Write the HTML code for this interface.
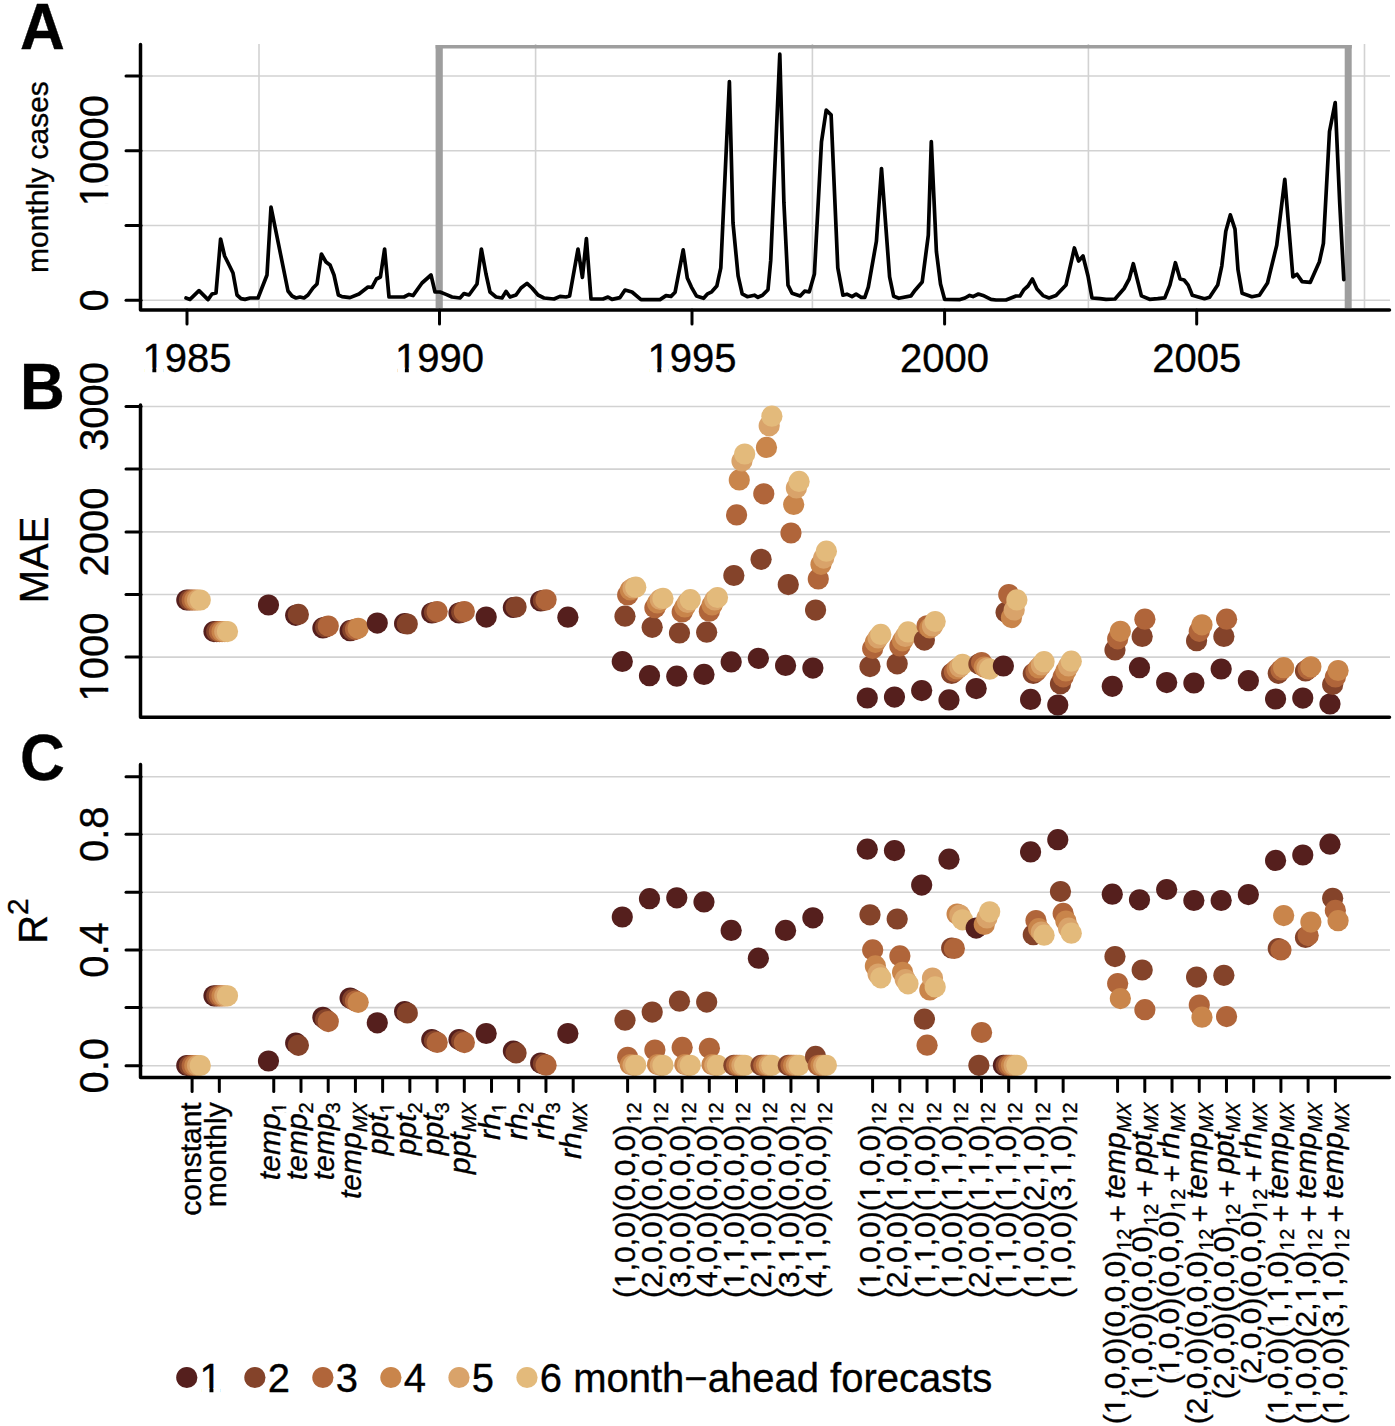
<!DOCTYPE html>
<html><head><meta charset="utf-8"><style>
html,body{margin:0;padding:0;background:#fff;}
svg{display:block;font-family:"Liberation Sans", sans-serif;}
text{stroke:#000;stroke-width:0.35px;}
</style></head><body>
<svg width="1395" height="1426" viewBox="0 0 1395 1426">
<rect width="1395" height="1426" fill="#fff"/>
<line x1="142" y1="76" x2="1390" y2="76" stroke="#d2d2d2" stroke-width="1.6" stroke-linecap="butt"/>
<line x1="142" y1="150.7" x2="1390" y2="150.7" stroke="#d2d2d2" stroke-width="1.6" stroke-linecap="butt"/>
<line x1="142" y1="225.5" x2="1390" y2="225.5" stroke="#d2d2d2" stroke-width="1.6" stroke-linecap="butt"/>
<line x1="142" y1="300.3" x2="1390" y2="300.3" stroke="#d2d2d2" stroke-width="1.6" stroke-linecap="butt"/>
<line x1="259" y1="44" x2="259" y2="308" stroke="#d2d2d2" stroke-width="1.6" stroke-linecap="butt"/>
<line x1="535.6" y1="44" x2="535.6" y2="308" stroke="#d2d2d2" stroke-width="1.6" stroke-linecap="butt"/>
<line x1="812.4" y1="44" x2="812.4" y2="308" stroke="#d2d2d2" stroke-width="1.6" stroke-linecap="butt"/>
<line x1="1088.4" y1="44" x2="1088.4" y2="308" stroke="#d2d2d2" stroke-width="1.6" stroke-linecap="butt"/>
<line x1="1364.5" y1="44" x2="1364.5" y2="308" stroke="#d2d2d2" stroke-width="1.6" stroke-linecap="butt"/>
<line x1="435.6" y1="46.8" x2="1351.7" y2="46.8" stroke="#9e9e9e" stroke-width="3.4" stroke-linecap="butt"/>
<line x1="439.2" y1="45.1" x2="439.2" y2="308" stroke="#9e9e9e" stroke-width="7.2" stroke-linecap="butt"/>
<line x1="1348.2" y1="45.1" x2="1348.2" y2="308" stroke="#9e9e9e" stroke-width="7.0" stroke-linecap="butt"/>
<polyline points="186,298 190,299.4 199,290.6 208,299.6 212,294 216,293 220.6,239 224.6,256 228.6,264 233,273 237,295 241,298.6 245,299.4 250,298 258,298 267,275 271,207 288,291 292,296 296,298 300,297 304,298 308,295 313,288 317,284 321.4,254 326,262 330,265 334,275 338.4,295 342,296.6 350,297.6 359,294 368,287 372,287.4 376.4,279 380.4,277 384.6,249 389,297 398,297 404,297 409,294.4 413,295.6 422,283 431,275 435,292 440,292 446,294.4 452,297 460,298 464,293.6 469,295 477,284 481.4,249 486,274 490,292 496,297 502,298 506,291.4 510,297 516,295 521,288 527,283.4 532,288 538,295 544,298 554,299 560,296.4 566,297 569.6,296 578,249 582.4,277.4 586.4,238.6 591,299 603,299 608,297 612,299.4 620,297.6 625,290 632,292 641,299.6 660,299.6 666,295.6 671,296.4 675.1,292.2 683.2,249.9 687.3,278 691.4,287.1 696.4,295.9 703.6,298.3 707.6,293.8 711.7,291.8 716.8,286.1 720.8,267.8 729.4,81.7 733,223 738.1,275.9 742.2,293.8 747.3,296.7 754.4,295.2 757.9,297.3 762.5,295.2 768,289.7 770.7,260.7 779.8,54.2 783.9,202.7 788,285.1 792,293.2 800.2,295.9 804.6,291.2 809.3,291.8 814.4,273.9 821.5,141.7 826.2,110.2 831.1,114.8 837.8,267.8 842.9,295.2 846.9,294.2 852,296.7 856.1,294.2 861.2,297.3 864.8,297.3 868.3,287.1 876.4,241.3 881.5,168.5 889.6,276.9 893.7,296.3 898.8,298.3 911,295.9 915.1,290.2 922.2,282 928.3,235.2 931.3,141.7 936.4,251.5 940.5,284 944.6,299.3 960,299.6 965,298 969.6,295.4 973,296.6 978.4,294 983,295.4 991,299.4 996,300 1006,300 1016,296 1020,296 1024,289.6 1028,286 1032.4,279 1037,289 1043,295.6 1049,298 1056,295.6 1066,285 1074.4,248 1078.6,261 1083,256 1088,276 1092,298 1100,298.6 1106,299.4 1115,299 1124.1,288.5 1129.2,279 1133.3,263.7 1141.4,295.9 1149.6,299.3 1157.7,298.7 1164.8,297.9 1169.9,285.1 1175.4,262.7 1180.1,279 1184.1,280 1188.2,285.1 1192.3,295.2 1197.4,296.7 1204.5,298.7 1209.6,297.3 1217.7,285.1 1221.8,265.8 1225.8,231.2 1230.3,214.9 1235,229.1 1238,269.8 1242.1,293.2 1251.9,296.7 1259.4,295.2 1267.5,283 1276.7,245.4 1284.8,179.3 1292.9,276.9 1297,274.3 1302.1,281.6 1310.2,282.4 1319.4,261.7 1323.4,243.4 1329.5,131.5 1335.2,102.6 1339.7,202.7 1343.8,279.6" fill="none" stroke="#000" stroke-width="3.7" stroke-linejoin="round" stroke-linecap="round"/>
<polyline points="140.5,44.5 140.5,310 1389.5,310" fill="none" stroke="#000" stroke-width="3.5" stroke-linejoin="round" stroke-linecap="round"/>
<line x1="126" y1="76" x2="141" y2="76" stroke="#000" stroke-width="3" stroke-linecap="round"/>
<line x1="126" y1="150.7" x2="141" y2="150.7" stroke="#000" stroke-width="3" stroke-linecap="round"/>
<line x1="126" y1="225.5" x2="141" y2="225.5" stroke="#000" stroke-width="3" stroke-linecap="round"/>
<line x1="126" y1="300.3" x2="141" y2="300.3" stroke="#000" stroke-width="3" stroke-linecap="round"/>
<line x1="187" y1="310" x2="187" y2="324" stroke="#000" stroke-width="3" stroke-linecap="round"/>
<line x1="439.5" y1="310" x2="439.5" y2="324" stroke="#000" stroke-width="3" stroke-linecap="round"/>
<line x1="692" y1="310" x2="692" y2="324" stroke="#000" stroke-width="3" stroke-linecap="round"/>
<line x1="944.6" y1="310" x2="944.6" y2="324" stroke="#000" stroke-width="3" stroke-linecap="round"/>
<line x1="1196.7" y1="310" x2="1196.7" y2="324" stroke="#000" stroke-width="3" stroke-linecap="round"/>
<text x="187" y="372" font-size="40" text-anchor="middle" font-weight="normal" font-style="normal">1985</text>
<text x="439.5" y="372" font-size="40" text-anchor="middle" font-weight="normal" font-style="normal">1990</text>
<text x="692" y="372" font-size="40" text-anchor="middle" font-weight="normal" font-style="normal">1995</text>
<text x="944.6" y="372" font-size="40" text-anchor="middle" font-weight="normal" font-style="normal">2000</text>
<text x="1196.7" y="372" font-size="40" text-anchor="middle" font-weight="normal" font-style="normal">2005</text>
<text transform="translate(108,300.3) rotate(-90)" font-size="40" text-anchor="middle" font-weight="normal" font-style="normal">0</text>
<text transform="translate(108,150.7) rotate(-90)" font-size="40" text-anchor="middle" font-weight="normal" font-style="normal">10000</text>
<text transform="translate(48.2,177) rotate(-90)" font-size="30" text-anchor="middle" font-weight="normal" font-style="normal">monthly cases</text>
<text transform="translate(20,48.8) scale(1,1.06)" font-size="62" font-weight="bold">A</text>
<line x1="142" y1="406.5" x2="1390" y2="406.5" stroke="#d2d2d2" stroke-width="1.6" stroke-linecap="butt"/>
<line x1="142" y1="469.1" x2="1390" y2="469.1" stroke="#d2d2d2" stroke-width="1.6" stroke-linecap="butt"/>
<line x1="142" y1="531.9" x2="1390" y2="531.9" stroke="#d2d2d2" stroke-width="1.6" stroke-linecap="butt"/>
<line x1="142" y1="594.5" x2="1390" y2="594.5" stroke="#d2d2d2" stroke-width="1.6" stroke-linecap="butt"/>
<line x1="142" y1="657.1" x2="1390" y2="657.1" stroke="#d2d2d2" stroke-width="1.6" stroke-linecap="butt"/>
<line x1="142" y1="776.7" x2="1390" y2="776.7" stroke="#d2d2d2" stroke-width="1.6" stroke-linecap="butt"/>
<line x1="142" y1="834.3" x2="1390" y2="834.3" stroke="#d2d2d2" stroke-width="1.6" stroke-linecap="butt"/>
<line x1="142" y1="892.3" x2="1390" y2="892.3" stroke="#d2d2d2" stroke-width="1.6" stroke-linecap="butt"/>
<line x1="142" y1="950" x2="1390" y2="950" stroke="#d2d2d2" stroke-width="1.6" stroke-linecap="butt"/>
<line x1="142" y1="1007.6" x2="1390" y2="1007.6" stroke="#d2d2d2" stroke-width="1.6" stroke-linecap="butt"/>
<line x1="142" y1="1065.7" x2="1390" y2="1065.7" stroke="#d2d2d2" stroke-width="1.6" stroke-linecap="butt"/>
<circle cx="186.8" cy="600" r="10.6" fill="#551f1d"/>
<circle cx="189.5" cy="600" r="10.6" fill="#84432a"/>
<circle cx="192.2" cy="600" r="10.6" fill="#b0653a"/>
<circle cx="194.9" cy="600" r="10.6" fill="#c9854b"/>
<circle cx="197.6" cy="600" r="10.6" fill="#d9a36a"/>
<circle cx="200.3" cy="600" r="10.6" fill="#e3ba7b"/>
<circle cx="214.0" cy="631.6" r="10.6" fill="#551f1d"/>
<circle cx="216.7" cy="631.6" r="10.6" fill="#84432a"/>
<circle cx="219.4" cy="631.6" r="10.6" fill="#b0653a"/>
<circle cx="222.1" cy="631.6" r="10.6" fill="#c9854b"/>
<circle cx="224.8" cy="631.6" r="10.6" fill="#d9a36a"/>
<circle cx="227.5" cy="631.6" r="10.6" fill="#e3ba7b"/>
<circle cx="268.5" cy="605" r="10.6" fill="#551f1d"/>
<circle cx="295.7" cy="615.3" r="10.6" fill="#551f1d"/>
<circle cx="298.4" cy="614.4" r="10.6" fill="#84432a"/>
<circle cx="322.9" cy="627.9" r="10.6" fill="#551f1d"/>
<circle cx="325.6" cy="627" r="10.6" fill="#84432a"/>
<circle cx="328.3" cy="626" r="10.6" fill="#b0653a"/>
<circle cx="350.1" cy="630.7" r="10.6" fill="#551f1d"/>
<circle cx="352.8" cy="630" r="10.6" fill="#84432a"/>
<circle cx="355.5" cy="629.3" r="10.6" fill="#b0653a"/>
<circle cx="358.2" cy="628.3" r="10.6" fill="#c9854b"/>
<circle cx="377.3" cy="623.1" r="10.6" fill="#551f1d"/>
<circle cx="404.6" cy="623.5" r="10.6" fill="#551f1d"/>
<circle cx="407.3" cy="624" r="10.6" fill="#84432a"/>
<circle cx="431.8" cy="613" r="10.6" fill="#551f1d"/>
<circle cx="434.5" cy="612.3" r="10.6" fill="#84432a"/>
<circle cx="437.2" cy="611.6" r="10.6" fill="#b0653a"/>
<circle cx="459.0" cy="613" r="10.6" fill="#551f1d"/>
<circle cx="461.7" cy="612.3" r="10.6" fill="#84432a"/>
<circle cx="464.4" cy="611.6" r="10.6" fill="#b0653a"/>
<circle cx="486.2" cy="617.1" r="10.6" fill="#551f1d"/>
<circle cx="513.4" cy="607.5" r="10.6" fill="#551f1d"/>
<circle cx="516.1" cy="607" r="10.6" fill="#84432a"/>
<circle cx="540.7" cy="601" r="10.6" fill="#551f1d"/>
<circle cx="543.4" cy="600.4" r="10.6" fill="#84432a"/>
<circle cx="546.1" cy="599.8" r="10.6" fill="#b0653a"/>
<circle cx="567.9" cy="617.2" r="10.6" fill="#551f1d"/>
<circle cx="622.3" cy="661.5" r="10.6" fill="#551f1d"/>
<circle cx="625.0" cy="616.2" r="10.6" fill="#84432a"/>
<circle cx="627.7" cy="595" r="10.6" fill="#b0653a"/>
<circle cx="630.4" cy="590" r="10.6" fill="#c9854b"/>
<circle cx="633.1" cy="588" r="10.6" fill="#d9a36a"/>
<circle cx="635.8" cy="587.2" r="10.6" fill="#e3ba7b"/>
<circle cx="649.5" cy="675.7" r="10.6" fill="#551f1d"/>
<circle cx="652.2" cy="627.3" r="10.6" fill="#84432a"/>
<circle cx="654.9" cy="607.7" r="10.6" fill="#b0653a"/>
<circle cx="657.6" cy="603" r="10.6" fill="#c9854b"/>
<circle cx="660.3" cy="599.5" r="10.6" fill="#d9a36a"/>
<circle cx="663.0" cy="598.4" r="10.6" fill="#e3ba7b"/>
<circle cx="676.8" cy="676.2" r="10.6" fill="#551f1d"/>
<circle cx="679.5" cy="633" r="10.6" fill="#84432a"/>
<circle cx="682.2" cy="612" r="10.6" fill="#b0653a"/>
<circle cx="684.9" cy="607" r="10.6" fill="#c9854b"/>
<circle cx="687.6" cy="602.5" r="10.6" fill="#d9a36a"/>
<circle cx="690.3" cy="599.7" r="10.6" fill="#e3ba7b"/>
<circle cx="704.0" cy="674.4" r="10.6" fill="#551f1d"/>
<circle cx="706.7" cy="632.2" r="10.6" fill="#84432a"/>
<circle cx="709.4" cy="611.2" r="10.6" fill="#b0653a"/>
<circle cx="712.1" cy="605" r="10.6" fill="#c9854b"/>
<circle cx="714.8" cy="600" r="10.6" fill="#d9a36a"/>
<circle cx="717.5" cy="597.5" r="10.6" fill="#e3ba7b"/>
<circle cx="731.2" cy="661.9" r="10.6" fill="#551f1d"/>
<circle cx="733.9" cy="575.5" r="10.6" fill="#84432a"/>
<circle cx="736.6" cy="514.9" r="10.6" fill="#b0653a"/>
<circle cx="739.3" cy="479.9" r="10.6" fill="#c9854b"/>
<circle cx="742.0" cy="460.9" r="10.6" fill="#d9a36a"/>
<circle cx="744.7" cy="454" r="10.6" fill="#e3ba7b"/>
<circle cx="758.4" cy="658.3" r="10.6" fill="#551f1d"/>
<circle cx="761.1" cy="559.3" r="10.6" fill="#84432a"/>
<circle cx="763.8" cy="493.8" r="10.6" fill="#b0653a"/>
<circle cx="766.5" cy="447.4" r="10.6" fill="#c9854b"/>
<circle cx="769.2" cy="425.8" r="10.6" fill="#d9a36a"/>
<circle cx="771.9" cy="416.2" r="10.6" fill="#e3ba7b"/>
<circle cx="785.6" cy="665.4" r="10.6" fill="#551f1d"/>
<circle cx="788.3" cy="584.6" r="10.6" fill="#84432a"/>
<circle cx="791.0" cy="533" r="10.6" fill="#b0653a"/>
<circle cx="793.7" cy="504.4" r="10.6" fill="#c9854b"/>
<circle cx="796.4" cy="487.9" r="10.6" fill="#d9a36a"/>
<circle cx="799.1" cy="481.4" r="10.6" fill="#e3ba7b"/>
<circle cx="812.9" cy="668.1" r="10.6" fill="#551f1d"/>
<circle cx="815.6" cy="610.1" r="10.6" fill="#84432a"/>
<circle cx="818.3" cy="578.9" r="10.6" fill="#b0653a"/>
<circle cx="821.0" cy="564.3" r="10.6" fill="#c9854b"/>
<circle cx="823.7" cy="558.1" r="10.6" fill="#d9a36a"/>
<circle cx="826.4" cy="551.2" r="10.6" fill="#e3ba7b"/>
<circle cx="867.3" cy="698" r="10.6" fill="#551f1d"/>
<circle cx="870.0" cy="666.6" r="10.6" fill="#84432a"/>
<circle cx="872.7" cy="648.4" r="10.6" fill="#b0653a"/>
<circle cx="875.4" cy="642.3" r="10.6" fill="#c9854b"/>
<circle cx="878.1" cy="638" r="10.6" fill="#d9a36a"/>
<circle cx="880.8" cy="634.4" r="10.6" fill="#e3ba7b"/>
<circle cx="894.5" cy="697.1" r="10.6" fill="#551f1d"/>
<circle cx="897.2" cy="663.8" r="10.6" fill="#84432a"/>
<circle cx="899.9" cy="645.9" r="10.6" fill="#b0653a"/>
<circle cx="902.6" cy="640.8" r="10.6" fill="#c9854b"/>
<circle cx="905.3" cy="636.5" r="10.6" fill="#d9a36a"/>
<circle cx="908.0" cy="631.9" r="10.6" fill="#e3ba7b"/>
<circle cx="921.7" cy="690.6" r="10.6" fill="#551f1d"/>
<circle cx="924.4" cy="640.1" r="10.6" fill="#84432a"/>
<circle cx="927.1" cy="625.8" r="10.6" fill="#b0653a"/>
<circle cx="929.8" cy="628" r="10.6" fill="#c9854b"/>
<circle cx="932.5" cy="626" r="10.6" fill="#d9a36a"/>
<circle cx="935.2" cy="621.5" r="10.6" fill="#e3ba7b"/>
<circle cx="949.0" cy="699.9" r="10.6" fill="#551f1d"/>
<circle cx="951.7" cy="673.5" r="10.6" fill="#84432a"/>
<circle cx="954.4" cy="671.4" r="10.6" fill="#b0653a"/>
<circle cx="957.1" cy="669" r="10.6" fill="#c9854b"/>
<circle cx="959.8" cy="667" r="10.6" fill="#d9a36a"/>
<circle cx="962.5" cy="664.4" r="10.6" fill="#e3ba7b"/>
<circle cx="976.2" cy="688.6" r="10.6" fill="#551f1d"/>
<circle cx="978.9" cy="664" r="10.6" fill="#84432a"/>
<circle cx="981.6" cy="662.5" r="10.6" fill="#b0653a"/>
<circle cx="984.3" cy="667" r="10.6" fill="#c9854b"/>
<circle cx="987.0" cy="668" r="10.6" fill="#d9a36a"/>
<circle cx="989.7" cy="669.2" r="10.6" fill="#e3ba7b"/>
<circle cx="1003.4" cy="666" r="10.6" fill="#551f1d"/>
<circle cx="1006.1" cy="612.3" r="10.6" fill="#84432a"/>
<circle cx="1008.8" cy="594.5" r="10.6" fill="#b0653a"/>
<circle cx="1011.5" cy="617.6" r="10.6" fill="#c9854b"/>
<circle cx="1014.2" cy="610" r="10.6" fill="#d9a36a"/>
<circle cx="1016.9" cy="599.9" r="10.6" fill="#e3ba7b"/>
<circle cx="1030.6" cy="699.4" r="10.6" fill="#551f1d"/>
<circle cx="1033.3" cy="673.5" r="10.6" fill="#84432a"/>
<circle cx="1036.0" cy="671.4" r="10.6" fill="#b0653a"/>
<circle cx="1038.7" cy="668" r="10.6" fill="#c9854b"/>
<circle cx="1041.4" cy="665" r="10.6" fill="#d9a36a"/>
<circle cx="1044.1" cy="661.7" r="10.6" fill="#e3ba7b"/>
<circle cx="1057.8" cy="705" r="10.6" fill="#551f1d"/>
<circle cx="1060.5" cy="683.8" r="10.6" fill="#84432a"/>
<circle cx="1063.2" cy="676.8" r="10.6" fill="#b0653a"/>
<circle cx="1065.9" cy="671" r="10.6" fill="#c9854b"/>
<circle cx="1068.6" cy="666" r="10.6" fill="#d9a36a"/>
<circle cx="1071.3" cy="661.2" r="10.6" fill="#e3ba7b"/>
<circle cx="1112.3" cy="686.3" r="10.6" fill="#551f1d"/>
<circle cx="1115.0" cy="650" r="10.6" fill="#84432a"/>
<circle cx="1117.7" cy="638.8" r="10.6" fill="#b0653a"/>
<circle cx="1120.4" cy="631.3" r="10.6" fill="#c9854b"/>
<circle cx="1139.5" cy="667.7" r="10.6" fill="#551f1d"/>
<circle cx="1142.2" cy="636.4" r="10.6" fill="#84432a"/>
<circle cx="1144.9" cy="619.2" r="10.6" fill="#b0653a"/>
<circle cx="1166.7" cy="682.6" r="10.6" fill="#551f1d"/>
<circle cx="1193.9" cy="683" r="10.6" fill="#551f1d"/>
<circle cx="1196.6" cy="640.7" r="10.6" fill="#84432a"/>
<circle cx="1199.3" cy="631.3" r="10.6" fill="#b0653a"/>
<circle cx="1202.0" cy="624.8" r="10.6" fill="#c9854b"/>
<circle cx="1221.2" cy="669" r="10.6" fill="#551f1d"/>
<circle cx="1223.9" cy="636.4" r="10.6" fill="#84432a"/>
<circle cx="1226.6" cy="619.2" r="10.6" fill="#b0653a"/>
<circle cx="1248.4" cy="680.7" r="10.6" fill="#551f1d"/>
<circle cx="1275.6" cy="699" r="10.6" fill="#551f1d"/>
<circle cx="1278.3" cy="673.3" r="10.6" fill="#84432a"/>
<circle cx="1281.0" cy="670" r="10.6" fill="#b0653a"/>
<circle cx="1283.7" cy="667.7" r="10.6" fill="#c9854b"/>
<circle cx="1302.8" cy="698.1" r="10.6" fill="#551f1d"/>
<circle cx="1305.5" cy="671" r="10.6" fill="#84432a"/>
<circle cx="1308.2" cy="669" r="10.6" fill="#b0653a"/>
<circle cx="1310.9" cy="666.8" r="10.6" fill="#c9854b"/>
<circle cx="1330.0" cy="704" r="10.6" fill="#551f1d"/>
<circle cx="1332.7" cy="684.5" r="10.6" fill="#84432a"/>
<circle cx="1335.4" cy="677" r="10.6" fill="#b0653a"/>
<circle cx="1338.1" cy="670.5" r="10.6" fill="#c9854b"/>
<circle cx="186.8" cy="1065.5" r="10.6" fill="#551f1d"/>
<circle cx="189.5" cy="1065.5" r="10.6" fill="#84432a"/>
<circle cx="192.2" cy="1065.5" r="10.6" fill="#b0653a"/>
<circle cx="194.9" cy="1065.5" r="10.6" fill="#c9854b"/>
<circle cx="197.6" cy="1065.5" r="10.6" fill="#d9a36a"/>
<circle cx="200.3" cy="1065.5" r="10.6" fill="#e3ba7b"/>
<circle cx="214.0" cy="995.8" r="10.6" fill="#551f1d"/>
<circle cx="216.7" cy="995.8" r="10.6" fill="#84432a"/>
<circle cx="219.4" cy="995.8" r="10.6" fill="#b0653a"/>
<circle cx="222.1" cy="995.8" r="10.6" fill="#c9854b"/>
<circle cx="224.8" cy="995.8" r="10.6" fill="#d9a36a"/>
<circle cx="227.5" cy="995.8" r="10.6" fill="#e3ba7b"/>
<circle cx="268.5" cy="1061" r="10.6" fill="#551f1d"/>
<circle cx="295.7" cy="1043.1" r="10.6" fill="#551f1d"/>
<circle cx="298.4" cy="1045.3" r="10.6" fill="#84432a"/>
<circle cx="322.9" cy="1017.3" r="10.6" fill="#551f1d"/>
<circle cx="325.6" cy="1019.5" r="10.6" fill="#84432a"/>
<circle cx="328.3" cy="1021.6" r="10.6" fill="#b0653a"/>
<circle cx="350.1" cy="998" r="10.6" fill="#551f1d"/>
<circle cx="352.8" cy="999.5" r="10.6" fill="#84432a"/>
<circle cx="355.5" cy="1001" r="10.6" fill="#b0653a"/>
<circle cx="358.2" cy="1002.3" r="10.6" fill="#c9854b"/>
<circle cx="377.3" cy="1022.8" r="10.6" fill="#551f1d"/>
<circle cx="404.6" cy="1011.5" r="10.6" fill="#551f1d"/>
<circle cx="407.3" cy="1013" r="10.6" fill="#84432a"/>
<circle cx="431.8" cy="1039.5" r="10.6" fill="#551f1d"/>
<circle cx="434.5" cy="1041" r="10.6" fill="#84432a"/>
<circle cx="437.2" cy="1042.5" r="10.6" fill="#b0653a"/>
<circle cx="459.0" cy="1039.5" r="10.6" fill="#551f1d"/>
<circle cx="461.7" cy="1041" r="10.6" fill="#84432a"/>
<circle cx="464.4" cy="1042.6" r="10.6" fill="#b0653a"/>
<circle cx="486.2" cy="1033.5" r="10.6" fill="#551f1d"/>
<circle cx="513.4" cy="1051" r="10.6" fill="#551f1d"/>
<circle cx="516.1" cy="1052.9" r="10.6" fill="#84432a"/>
<circle cx="540.7" cy="1063" r="10.6" fill="#551f1d"/>
<circle cx="543.4" cy="1064" r="10.6" fill="#84432a"/>
<circle cx="546.1" cy="1065.2" r="10.6" fill="#b0653a"/>
<circle cx="567.9" cy="1033.5" r="10.6" fill="#551f1d"/>
<circle cx="622.3" cy="917" r="10.6" fill="#551f1d"/>
<circle cx="625.0" cy="1020.2" r="10.6" fill="#84432a"/>
<circle cx="627.7" cy="1057.3" r="10.6" fill="#b0653a"/>
<circle cx="630.4" cy="1064.5" r="10.6" fill="#c9854b"/>
<circle cx="633.1" cy="1065.3" r="10.6" fill="#d9a36a"/>
<circle cx="635.8" cy="1065.3" r="10.6" fill="#e3ba7b"/>
<circle cx="649.5" cy="898.7" r="10.6" fill="#551f1d"/>
<circle cx="652.2" cy="1012.1" r="10.6" fill="#84432a"/>
<circle cx="654.9" cy="1050.1" r="10.6" fill="#b0653a"/>
<circle cx="657.6" cy="1064.5" r="10.6" fill="#c9854b"/>
<circle cx="660.3" cy="1065.3" r="10.6" fill="#d9a36a"/>
<circle cx="663.0" cy="1065.3" r="10.6" fill="#e3ba7b"/>
<circle cx="676.8" cy="897.8" r="10.6" fill="#551f1d"/>
<circle cx="679.5" cy="1001.2" r="10.6" fill="#84432a"/>
<circle cx="682.2" cy="1047.4" r="10.6" fill="#b0653a"/>
<circle cx="684.9" cy="1064.5" r="10.6" fill="#c9854b"/>
<circle cx="687.6" cy="1065.3" r="10.6" fill="#d9a36a"/>
<circle cx="690.3" cy="1065.3" r="10.6" fill="#e3ba7b"/>
<circle cx="704.0" cy="901.9" r="10.6" fill="#551f1d"/>
<circle cx="706.7" cy="1002.1" r="10.6" fill="#84432a"/>
<circle cx="709.4" cy="1048.3" r="10.6" fill="#b0653a"/>
<circle cx="712.1" cy="1064.5" r="10.6" fill="#c9854b"/>
<circle cx="714.8" cy="1065.3" r="10.6" fill="#d9a36a"/>
<circle cx="717.5" cy="1065.3" r="10.6" fill="#e3ba7b"/>
<circle cx="731.2" cy="930.4" r="10.6" fill="#551f1d"/>
<circle cx="733.9" cy="1065.3" r="10.6" fill="#84432a"/>
<circle cx="736.6" cy="1065.3" r="10.6" fill="#b0653a"/>
<circle cx="739.3" cy="1065.3" r="10.6" fill="#c9854b"/>
<circle cx="742.0" cy="1065.3" r="10.6" fill="#d9a36a"/>
<circle cx="744.7" cy="1065.3" r="10.6" fill="#e3ba7b"/>
<circle cx="758.4" cy="958.2" r="10.6" fill="#551f1d"/>
<circle cx="761.1" cy="1065.3" r="10.6" fill="#84432a"/>
<circle cx="763.8" cy="1065.3" r="10.6" fill="#b0653a"/>
<circle cx="766.5" cy="1065.3" r="10.6" fill="#c9854b"/>
<circle cx="769.2" cy="1065.3" r="10.6" fill="#d9a36a"/>
<circle cx="771.9" cy="1065.3" r="10.6" fill="#e3ba7b"/>
<circle cx="785.6" cy="930.4" r="10.6" fill="#551f1d"/>
<circle cx="788.3" cy="1065.3" r="10.6" fill="#84432a"/>
<circle cx="791.0" cy="1065.3" r="10.6" fill="#b0653a"/>
<circle cx="793.7" cy="1065.3" r="10.6" fill="#c9854b"/>
<circle cx="796.4" cy="1065.3" r="10.6" fill="#d9a36a"/>
<circle cx="799.1" cy="1065.3" r="10.6" fill="#e3ba7b"/>
<circle cx="812.9" cy="917.8" r="10.6" fill="#551f1d"/>
<circle cx="815.6" cy="1056.4" r="10.6" fill="#84432a"/>
<circle cx="818.3" cy="1065.3" r="10.6" fill="#b0653a"/>
<circle cx="821.0" cy="1065.3" r="10.6" fill="#c9854b"/>
<circle cx="823.7" cy="1065.3" r="10.6" fill="#d9a36a"/>
<circle cx="826.4" cy="1065.3" r="10.6" fill="#e3ba7b"/>
<circle cx="867.3" cy="849.2" r="10.6" fill="#551f1d"/>
<circle cx="870.0" cy="914.8" r="10.6" fill="#84432a"/>
<circle cx="872.7" cy="949.9" r="10.6" fill="#b0653a"/>
<circle cx="875.4" cy="965.9" r="10.6" fill="#c9854b"/>
<circle cx="878.1" cy="974.1" r="10.6" fill="#d9a36a"/>
<circle cx="880.8" cy="977.8" r="10.6" fill="#e3ba7b"/>
<circle cx="894.5" cy="850.6" r="10.6" fill="#551f1d"/>
<circle cx="897.2" cy="919" r="10.6" fill="#84432a"/>
<circle cx="899.9" cy="955.9" r="10.6" fill="#b0653a"/>
<circle cx="902.6" cy="972.3" r="10.6" fill="#c9854b"/>
<circle cx="905.3" cy="979.6" r="10.6" fill="#d9a36a"/>
<circle cx="908.0" cy="983.8" r="10.6" fill="#e3ba7b"/>
<circle cx="921.7" cy="885.1" r="10.6" fill="#551f1d"/>
<circle cx="924.4" cy="1019.2" r="10.6" fill="#84432a"/>
<circle cx="927.1" cy="1045.2" r="10.6" fill="#b0653a"/>
<circle cx="929.8" cy="990" r="10.6" fill="#c9854b"/>
<circle cx="932.5" cy="978" r="10.6" fill="#d9a36a"/>
<circle cx="935.2" cy="986.9" r="10.6" fill="#e3ba7b"/>
<circle cx="949.0" cy="859.2" r="10.6" fill="#551f1d"/>
<circle cx="951.7" cy="948" r="10.6" fill="#84432a"/>
<circle cx="954.4" cy="948.5" r="10.6" fill="#b0653a"/>
<circle cx="957.1" cy="914" r="10.6" fill="#c9854b"/>
<circle cx="959.8" cy="915" r="10.6" fill="#d9a36a"/>
<circle cx="962.5" cy="919.8" r="10.6" fill="#e3ba7b"/>
<circle cx="976.2" cy="928.1" r="10.6" fill="#551f1d"/>
<circle cx="978.9" cy="1065.3" r="10.6" fill="#84432a"/>
<circle cx="981.6" cy="1032.5" r="10.6" fill="#b0653a"/>
<circle cx="984.3" cy="924.4" r="10.6" fill="#c9854b"/>
<circle cx="987.0" cy="918" r="10.6" fill="#d9a36a"/>
<circle cx="989.7" cy="911.8" r="10.6" fill="#e3ba7b"/>
<circle cx="1003.4" cy="1065.3" r="10.6" fill="#551f1d"/>
<circle cx="1006.1" cy="1065.3" r="10.6" fill="#84432a"/>
<circle cx="1008.8" cy="1065.3" r="10.6" fill="#b0653a"/>
<circle cx="1011.5" cy="1065.3" r="10.6" fill="#c9854b"/>
<circle cx="1014.2" cy="1065.3" r="10.6" fill="#d9a36a"/>
<circle cx="1016.9" cy="1065.3" r="10.6" fill="#e3ba7b"/>
<circle cx="1030.6" cy="851.9" r="10.6" fill="#551f1d"/>
<circle cx="1033.3" cy="934.7" r="10.6" fill="#84432a"/>
<circle cx="1036.0" cy="920.5" r="10.6" fill="#b0653a"/>
<circle cx="1038.7" cy="928.7" r="10.6" fill="#c9854b"/>
<circle cx="1041.4" cy="932" r="10.6" fill="#d9a36a"/>
<circle cx="1044.1" cy="935.2" r="10.6" fill="#e3ba7b"/>
<circle cx="1057.8" cy="839.7" r="10.6" fill="#551f1d"/>
<circle cx="1060.5" cy="891.5" r="10.6" fill="#84432a"/>
<circle cx="1063.2" cy="913.4" r="10.6" fill="#b0653a"/>
<circle cx="1065.9" cy="921.1" r="10.6" fill="#c9854b"/>
<circle cx="1068.6" cy="928.2" r="10.6" fill="#d9a36a"/>
<circle cx="1071.3" cy="933.2" r="10.6" fill="#e3ba7b"/>
<circle cx="1112.3" cy="894.2" r="10.6" fill="#551f1d"/>
<circle cx="1115.0" cy="956.6" r="10.6" fill="#84432a"/>
<circle cx="1117.7" cy="983.5" r="10.6" fill="#b0653a"/>
<circle cx="1120.4" cy="998.6" r="10.6" fill="#c9854b"/>
<circle cx="1139.5" cy="899.8" r="10.6" fill="#551f1d"/>
<circle cx="1142.2" cy="970" r="10.6" fill="#84432a"/>
<circle cx="1144.9" cy="1009.7" r="10.6" fill="#b0653a"/>
<circle cx="1166.7" cy="889.5" r="10.6" fill="#551f1d"/>
<circle cx="1193.9" cy="900.5" r="10.6" fill="#551f1d"/>
<circle cx="1196.6" cy="977.1" r="10.6" fill="#84432a"/>
<circle cx="1199.3" cy="1005.1" r="10.6" fill="#b0653a"/>
<circle cx="1202.0" cy="1017.2" r="10.6" fill="#c9854b"/>
<circle cx="1221.2" cy="900.5" r="10.6" fill="#551f1d"/>
<circle cx="1223.9" cy="975.3" r="10.6" fill="#84432a"/>
<circle cx="1226.6" cy="1016.6" r="10.6" fill="#b0653a"/>
<circle cx="1248.4" cy="894.6" r="10.6" fill="#551f1d"/>
<circle cx="1275.6" cy="860.4" r="10.6" fill="#551f1d"/>
<circle cx="1278.3" cy="948.6" r="10.6" fill="#84432a"/>
<circle cx="1281.0" cy="949.9" r="10.6" fill="#b0653a"/>
<circle cx="1283.7" cy="915.6" r="10.6" fill="#c9854b"/>
<circle cx="1302.8" cy="855" r="10.6" fill="#551f1d"/>
<circle cx="1305.5" cy="937.4" r="10.6" fill="#84432a"/>
<circle cx="1308.2" cy="935.6" r="10.6" fill="#b0653a"/>
<circle cx="1310.9" cy="922.1" r="10.6" fill="#c9854b"/>
<circle cx="1330.0" cy="844.2" r="10.6" fill="#551f1d"/>
<circle cx="1332.7" cy="898.3" r="10.6" fill="#84432a"/>
<circle cx="1335.4" cy="910.4" r="10.6" fill="#b0653a"/>
<circle cx="1338.1" cy="920.7" r="10.6" fill="#c9854b"/>
<polyline points="140.5,405 140.5,717.2 1389.5,717.2" fill="none" stroke="#000" stroke-width="3.5" stroke-linejoin="round" stroke-linecap="round"/>
<line x1="126" y1="406.5" x2="141" y2="406.5" stroke="#000" stroke-width="3" stroke-linecap="round"/>
<line x1="126" y1="469.1" x2="141" y2="469.1" stroke="#000" stroke-width="3" stroke-linecap="round"/>
<line x1="126" y1="531.9" x2="141" y2="531.9" stroke="#000" stroke-width="3" stroke-linecap="round"/>
<line x1="126" y1="594.5" x2="141" y2="594.5" stroke="#000" stroke-width="3" stroke-linecap="round"/>
<line x1="126" y1="657.1" x2="141" y2="657.1" stroke="#000" stroke-width="3" stroke-linecap="round"/>
<text transform="translate(108,406.5) rotate(-90)" font-size="40" text-anchor="middle" font-weight="normal" font-style="normal">3000</text>
<text transform="translate(108,531.9) rotate(-90)" font-size="40" text-anchor="middle" font-weight="normal" font-style="normal">2000</text>
<text transform="translate(108,657.1) rotate(-90)" font-size="40" text-anchor="middle" font-weight="normal" font-style="normal">1000</text>
<text transform="translate(48,560) rotate(-90)" font-size="40" text-anchor="middle" font-weight="normal" font-style="normal">MAE</text>
<text transform="translate(20,408.8) scale(1,1.06)" font-size="62" font-weight="bold">B</text>
<polyline points="140.5,764.5 140.5,1077.4 1389.5,1077.4" fill="none" stroke="#000" stroke-width="3.5" stroke-linejoin="round" stroke-linecap="round"/>
<line x1="126" y1="776.7" x2="141" y2="776.7" stroke="#000" stroke-width="3" stroke-linecap="round"/>
<line x1="126" y1="834.3" x2="141" y2="834.3" stroke="#000" stroke-width="3" stroke-linecap="round"/>
<line x1="126" y1="892.3" x2="141" y2="892.3" stroke="#000" stroke-width="3" stroke-linecap="round"/>
<line x1="126" y1="950" x2="141" y2="950" stroke="#000" stroke-width="3" stroke-linecap="round"/>
<line x1="126" y1="1007.6" x2="141" y2="1007.6" stroke="#000" stroke-width="3" stroke-linecap="round"/>
<line x1="126" y1="1065.7" x2="141" y2="1065.7" stroke="#000" stroke-width="3" stroke-linecap="round"/>
<text transform="translate(108,1065.7) rotate(-90)" font-size="40" text-anchor="middle" font-weight="normal" font-style="normal">0.0</text>
<text transform="translate(108,950) rotate(-90)" font-size="40" text-anchor="middle" font-weight="normal" font-style="normal">0.4</text>
<text transform="translate(108,834.3) rotate(-90)" font-size="40" text-anchor="middle" font-weight="normal" font-style="normal">0.8</text>
<text transform="translate(47.4,943.8) rotate(-90)" font-size="40">R<tspan font-size="30" dy="-19.7">2</tspan></text>
<text transform="translate(20,780) scale(1,1.06)" font-size="62" font-weight="bold">C</text>
<line x1="192.1" y1="1077.5" x2="192.1" y2="1091.5" stroke="#000" stroke-width="3" stroke-linecap="round"/>
<line x1="219.32" y1="1077.5" x2="219.32" y2="1091.5" stroke="#000" stroke-width="3" stroke-linecap="round"/>
<line x1="273.76" y1="1077.5" x2="273.76" y2="1091.5" stroke="#000" stroke-width="3" stroke-linecap="round"/>
<line x1="300.98" y1="1077.5" x2="300.98" y2="1091.5" stroke="#000" stroke-width="3" stroke-linecap="round"/>
<line x1="328.2" y1="1077.5" x2="328.2" y2="1091.5" stroke="#000" stroke-width="3" stroke-linecap="round"/>
<line x1="355.41999999999996" y1="1077.5" x2="355.41999999999996" y2="1091.5" stroke="#000" stroke-width="3" stroke-linecap="round"/>
<line x1="382.64" y1="1077.5" x2="382.64" y2="1091.5" stroke="#000" stroke-width="3" stroke-linecap="round"/>
<line x1="409.86" y1="1077.5" x2="409.86" y2="1091.5" stroke="#000" stroke-width="3" stroke-linecap="round"/>
<line x1="437.08" y1="1077.5" x2="437.08" y2="1091.5" stroke="#000" stroke-width="3" stroke-linecap="round"/>
<line x1="464.29999999999995" y1="1077.5" x2="464.29999999999995" y2="1091.5" stroke="#000" stroke-width="3" stroke-linecap="round"/>
<line x1="491.52" y1="1077.5" x2="491.52" y2="1091.5" stroke="#000" stroke-width="3" stroke-linecap="round"/>
<line x1="518.74" y1="1077.5" x2="518.74" y2="1091.5" stroke="#000" stroke-width="3" stroke-linecap="round"/>
<line x1="545.96" y1="1077.5" x2="545.96" y2="1091.5" stroke="#000" stroke-width="3" stroke-linecap="round"/>
<line x1="573.18" y1="1077.5" x2="573.18" y2="1091.5" stroke="#000" stroke-width="3" stroke-linecap="round"/>
<line x1="627.62" y1="1077.5" x2="627.62" y2="1091.5" stroke="#000" stroke-width="3" stroke-linecap="round"/>
<line x1="654.84" y1="1077.5" x2="654.84" y2="1091.5" stroke="#000" stroke-width="3" stroke-linecap="round"/>
<line x1="682.06" y1="1077.5" x2="682.06" y2="1091.5" stroke="#000" stroke-width="3" stroke-linecap="round"/>
<line x1="709.28" y1="1077.5" x2="709.28" y2="1091.5" stroke="#000" stroke-width="3" stroke-linecap="round"/>
<line x1="736.5" y1="1077.5" x2="736.5" y2="1091.5" stroke="#000" stroke-width="3" stroke-linecap="round"/>
<line x1="763.72" y1="1077.5" x2="763.72" y2="1091.5" stroke="#000" stroke-width="3" stroke-linecap="round"/>
<line x1="790.9399999999999" y1="1077.5" x2="790.9399999999999" y2="1091.5" stroke="#000" stroke-width="3" stroke-linecap="round"/>
<line x1="818.16" y1="1077.5" x2="818.16" y2="1091.5" stroke="#000" stroke-width="3" stroke-linecap="round"/>
<line x1="872.6" y1="1077.5" x2="872.6" y2="1091.5" stroke="#000" stroke-width="3" stroke-linecap="round"/>
<line x1="899.82" y1="1077.5" x2="899.82" y2="1091.5" stroke="#000" stroke-width="3" stroke-linecap="round"/>
<line x1="927.04" y1="1077.5" x2="927.04" y2="1091.5" stroke="#000" stroke-width="3" stroke-linecap="round"/>
<line x1="954.26" y1="1077.5" x2="954.26" y2="1091.5" stroke="#000" stroke-width="3" stroke-linecap="round"/>
<line x1="981.48" y1="1077.5" x2="981.48" y2="1091.5" stroke="#000" stroke-width="3" stroke-linecap="round"/>
<line x1="1008.6999999999999" y1="1077.5" x2="1008.6999999999999" y2="1091.5" stroke="#000" stroke-width="3" stroke-linecap="round"/>
<line x1="1035.9199999999998" y1="1077.5" x2="1035.9199999999998" y2="1091.5" stroke="#000" stroke-width="3" stroke-linecap="round"/>
<line x1="1063.1399999999999" y1="1077.5" x2="1063.1399999999999" y2="1091.5" stroke="#000" stroke-width="3" stroke-linecap="round"/>
<line x1="1117.58" y1="1077.5" x2="1117.58" y2="1091.5" stroke="#000" stroke-width="3" stroke-linecap="round"/>
<line x1="1144.8" y1="1077.5" x2="1144.8" y2="1091.5" stroke="#000" stroke-width="3" stroke-linecap="round"/>
<line x1="1172.02" y1="1077.5" x2="1172.02" y2="1091.5" stroke="#000" stroke-width="3" stroke-linecap="round"/>
<line x1="1199.24" y1="1077.5" x2="1199.24" y2="1091.5" stroke="#000" stroke-width="3" stroke-linecap="round"/>
<line x1="1226.4599999999998" y1="1077.5" x2="1226.4599999999998" y2="1091.5" stroke="#000" stroke-width="3" stroke-linecap="round"/>
<line x1="1253.6799999999998" y1="1077.5" x2="1253.6799999999998" y2="1091.5" stroke="#000" stroke-width="3" stroke-linecap="round"/>
<line x1="1280.8999999999999" y1="1077.5" x2="1280.8999999999999" y2="1091.5" stroke="#000" stroke-width="3" stroke-linecap="round"/>
<line x1="1308.12" y1="1077.5" x2="1308.12" y2="1091.5" stroke="#000" stroke-width="3" stroke-linecap="round"/>
<line x1="1335.34" y1="1077.5" x2="1335.34" y2="1091.5" stroke="#000" stroke-width="3" stroke-linecap="round"/>
<text transform="translate(201.4,1102.3) rotate(-90)" font-size="30" text-anchor="end"><tspan dy="0">constant</tspan></text>
<text transform="translate(226.1,1102.3) rotate(-90)" font-size="30" text-anchor="end"><tspan dy="0">monthly</tspan></text>
<text transform="translate(279.6,1102.3) rotate(-90)" font-size="30" text-anchor="end"><tspan dy="0" font-style="italic">temp</tspan><tspan dy="6" font-size="20">1</tspan></text>
<text transform="translate(306.8,1102.3) rotate(-90)" font-size="30" text-anchor="end"><tspan dy="0" font-style="italic">temp</tspan><tspan dy="6" font-size="20">2</tspan></text>
<text transform="translate(334.0,1102.3) rotate(-90)" font-size="30" text-anchor="end"><tspan dy="0" font-style="italic">temp</tspan><tspan dy="6" font-size="20">3</tspan></text>
<text transform="translate(361.2,1102.3) rotate(-90)" font-size="30" text-anchor="end"><tspan dy="0" font-style="italic">temp</tspan><tspan dy="6" font-size="20" font-style="italic">MX</tspan></text>
<text transform="translate(388.4,1102.3) rotate(-90)" font-size="30" text-anchor="end"><tspan dy="0" font-style="italic">ppt</tspan><tspan dy="6" font-size="20">1</tspan></text>
<text transform="translate(415.7,1102.3) rotate(-90)" font-size="30" text-anchor="end"><tspan dy="0" font-style="italic">ppt</tspan><tspan dy="6" font-size="20">2</tspan></text>
<text transform="translate(442.9,1102.3) rotate(-90)" font-size="30" text-anchor="end"><tspan dy="0" font-style="italic">ppt</tspan><tspan dy="6" font-size="20">3</tspan></text>
<text transform="translate(470.1,1102.3) rotate(-90)" font-size="30" text-anchor="end"><tspan dy="0" font-style="italic">ppt</tspan><tspan dy="6" font-size="20" font-style="italic">MX</tspan></text>
<text transform="translate(499.7,1102.3) rotate(-90)" font-size="30" text-anchor="end"><tspan dy="0" font-style="italic">rh</tspan><tspan dy="6" font-size="20">1</tspan></text>
<text transform="translate(526.9,1102.3) rotate(-90)" font-size="30" text-anchor="end"><tspan dy="0" font-style="italic">rh</tspan><tspan dy="6" font-size="20">2</tspan></text>
<text transform="translate(554.2,1102.3) rotate(-90)" font-size="30" text-anchor="end"><tspan dy="0" font-style="italic">rh</tspan><tspan dy="6" font-size="20">3</tspan></text>
<text transform="translate(581.4,1102.3) rotate(-90)" font-size="30" text-anchor="end"><tspan dy="0" font-style="italic">rh</tspan><tspan dy="6" font-size="20" font-style="italic">MX</tspan></text>
<text transform="translate(635.2,1102.3) rotate(-90)" font-size="30" text-anchor="end"><tspan dy="0">(1,0,0)(0,0,0)</tspan><tspan dy="6" font-size="20">12</tspan></text>
<text transform="translate(662.4,1102.3) rotate(-90)" font-size="30" text-anchor="end"><tspan dy="0">(2,0,0)(0,0,0)</tspan><tspan dy="6" font-size="20">12</tspan></text>
<text transform="translate(689.7,1102.3) rotate(-90)" font-size="30" text-anchor="end"><tspan dy="0">(3,0,0)(0,0,0)</tspan><tspan dy="6" font-size="20">12</tspan></text>
<text transform="translate(716.9,1102.3) rotate(-90)" font-size="30" text-anchor="end"><tspan dy="0">(4,0,0)(0,0,0)</tspan><tspan dy="6" font-size="20">12</tspan></text>
<text transform="translate(744.1,1102.3) rotate(-90)" font-size="30" text-anchor="end"><tspan dy="0">(1,1,0)(0,0,0)</tspan><tspan dy="6" font-size="20">12</tspan></text>
<text transform="translate(771.3,1102.3) rotate(-90)" font-size="30" text-anchor="end"><tspan dy="0">(2,1,0)(0,0,0)</tspan><tspan dy="6" font-size="20">12</tspan></text>
<text transform="translate(798.5,1102.3) rotate(-90)" font-size="30" text-anchor="end"><tspan dy="0">(3,1,0)(0,0,0)</tspan><tspan dy="6" font-size="20">12</tspan></text>
<text transform="translate(825.8,1102.3) rotate(-90)" font-size="30" text-anchor="end"><tspan dy="0">(4,1,0)(0,0,0)</tspan><tspan dy="6" font-size="20">12</tspan></text>
<text transform="translate(880.2,1102.3) rotate(-90)" font-size="30" text-anchor="end"><tspan dy="0">(1,0,0)(1,0,0)</tspan><tspan dy="6" font-size="20">12</tspan></text>
<text transform="translate(907.4,1102.3) rotate(-90)" font-size="30" text-anchor="end"><tspan dy="0">(2,0,0)(1,0,0)</tspan><tspan dy="6" font-size="20">12</tspan></text>
<text transform="translate(934.6,1102.3) rotate(-90)" font-size="30" text-anchor="end"><tspan dy="0">(1,1,0)(1,0,0)</tspan><tspan dy="6" font-size="20">12</tspan></text>
<text transform="translate(961.9,1102.3) rotate(-90)" font-size="30" text-anchor="end"><tspan dy="0">(1,0,0)(1,1,0)</tspan><tspan dy="6" font-size="20">12</tspan></text>
<text transform="translate(989.1,1102.3) rotate(-90)" font-size="30" text-anchor="end"><tspan dy="0">(2,0,0)(1,1,0)</tspan><tspan dy="6" font-size="20">12</tspan></text>
<text transform="translate(1016.3,1102.3) rotate(-90)" font-size="30" text-anchor="end"><tspan dy="0">(1,1,0)(1,1,0)</tspan><tspan dy="6" font-size="20">12</tspan></text>
<text transform="translate(1043.5,1102.3) rotate(-90)" font-size="30" text-anchor="end"><tspan dy="0">(1,0,0)(2,1,0)</tspan><tspan dy="6" font-size="20">12</tspan></text>
<text transform="translate(1070.7,1102.3) rotate(-90)" font-size="30" text-anchor="end"><tspan dy="0">(1,0,0)(3,1,0)</tspan><tspan dy="6" font-size="20">12</tspan></text>
<text transform="translate(1125.0,1102.3) rotate(-90)" font-size="30" text-anchor="end"><tspan dy="0">(1,0,0)(0,0,0)</tspan><tspan dy="6" font-size="20">12</tspan><tspan dy="-3"> + </tspan><tspan dy="-3" font-style="italic">temp</tspan><tspan dy="6" font-size="20" font-style="italic">MX</tspan></text>
<text transform="translate(1152.2,1102.3) rotate(-90)" font-size="30" text-anchor="end"><tspan dy="0">(1,0,0)(0,0,0)</tspan><tspan dy="6" font-size="20">12</tspan><tspan dy="-3"> + </tspan><tspan dy="-3" font-style="italic">ppt</tspan><tspan dy="6" font-size="20" font-style="italic">MX</tspan></text>
<text transform="translate(1179.4,1102.3) rotate(-90)" font-size="30" text-anchor="end"><tspan dy="0">(1,0,0)(0,0,0)</tspan><tspan dy="6" font-size="20">12</tspan><tspan dy="-3"> + </tspan><tspan dy="-3" font-style="italic">rh</tspan><tspan dy="6" font-size="20" font-style="italic">MX</tspan></text>
<text transform="translate(1206.6,1102.3) rotate(-90)" font-size="30" text-anchor="end"><tspan dy="0">(2,0,0)(0,0,0)</tspan><tspan dy="6" font-size="20">12</tspan><tspan dy="-3"> + </tspan><tspan dy="-3" font-style="italic">temp</tspan><tspan dy="6" font-size="20" font-style="italic">MX</tspan></text>
<text transform="translate(1233.9,1102.3) rotate(-90)" font-size="30" text-anchor="end"><tspan dy="0">(2,0,0)(0,0,0)</tspan><tspan dy="6" font-size="20">12</tspan><tspan dy="-3"> + </tspan><tspan dy="-3" font-style="italic">ppt</tspan><tspan dy="6" font-size="20" font-style="italic">MX</tspan></text>
<text transform="translate(1261.1,1102.3) rotate(-90)" font-size="30" text-anchor="end"><tspan dy="0">(2,0,0)(0,0,0)</tspan><tspan dy="6" font-size="20">12</tspan><tspan dy="-3"> + </tspan><tspan dy="-3" font-style="italic">rh</tspan><tspan dy="6" font-size="20" font-style="italic">MX</tspan></text>
<text transform="translate(1288.3,1102.3) rotate(-90)" font-size="30" text-anchor="end"><tspan dy="0">(1,0,0)(1,1,0)</tspan><tspan dy="6" font-size="20">12</tspan><tspan dy="-3"> + </tspan><tspan dy="-3" font-style="italic">temp</tspan><tspan dy="6" font-size="20" font-style="italic">MX</tspan></text>
<text transform="translate(1315.5,1102.3) rotate(-90)" font-size="30" text-anchor="end"><tspan dy="0">(1,0,0)(2,1,0)</tspan><tspan dy="6" font-size="20">12</tspan><tspan dy="-3"> + </tspan><tspan dy="-3" font-style="italic">temp</tspan><tspan dy="6" font-size="20" font-style="italic">MX</tspan></text>
<text transform="translate(1342.7,1102.3) rotate(-90)" font-size="30" text-anchor="end"><tspan dy="0">(1,0,0)(3,1,0)</tspan><tspan dy="6" font-size="20">12</tspan><tspan dy="-3"> + </tspan><tspan dy="-3" font-style="italic">temp</tspan><tspan dy="6" font-size="20" font-style="italic">MX</tspan></text>
<circle cx="186.8" cy="1377.5" r="10.6" fill="#551f1d"/>
<text x="199.6" y="1392.4" font-size="40" text-anchor="start" font-weight="normal" font-style="normal">1</text>
<circle cx="254.9" cy="1377.5" r="10.6" fill="#84432a"/>
<text x="267.7" y="1392.4" font-size="40" text-anchor="start" font-weight="normal" font-style="normal">2</text>
<circle cx="322.9" cy="1377.5" r="10.6" fill="#b0653a"/>
<text x="335.7" y="1392.4" font-size="40" text-anchor="start" font-weight="normal" font-style="normal">3</text>
<circle cx="390.9" cy="1377.5" r="10.6" fill="#c9854b"/>
<text x="403.8" y="1392.4" font-size="40" text-anchor="start" font-weight="normal" font-style="normal">4</text>
<circle cx="459.0" cy="1377.5" r="10.6" fill="#d9a36a"/>
<text x="471.8" y="1392.4" font-size="40" text-anchor="start" font-weight="normal" font-style="normal">5</text>
<circle cx="527.0" cy="1377.5" r="10.6" fill="#e3ba7b"/>
<text x="539.8" y="1392.4" font-size="40" text-anchor="start" font-weight="normal" font-style="normal">6 month−ahead forecasts</text>
<g id="onefix" fill="#fff"><rect x="144.86" y="367.61" width="7.51" height="5.79"/><rect x="156.30" y="367.61" width="7.20" height="5.79"/><rect x="397.36" y="367.61" width="7.51" height="5.79"/><rect x="408.80" y="367.61" width="7.20" height="5.79"/><rect x="649.86" y="367.61" width="7.51" height="5.79"/><rect x="661.30" y="367.61" width="7.20" height="5.79"/><g transform="translate(108,150.7) rotate(-90)"><rect x="-53.27" y="-4.39" width="7.51" height="5.79"/><rect x="-41.82" y="-4.39" width="7.20" height="5.79"/></g><g transform="translate(108,657.1) rotate(-90)"><rect x="-42.14" y="-4.39" width="7.51" height="5.79"/><rect x="-30.70" y="-4.39" width="7.20" height="5.79"/></g><g transform="translate(279.6,1102.3) rotate(-90)"><rect x="-10.30" y="3.11" width="4.01" height="4.29"/><rect x="-4.13" y="3.11" width="3.85" height="4.29"/></g><g transform="translate(388.4,1102.3) rotate(-90)"><rect x="-10.30" y="3.11" width="4.01" height="4.29"/><rect x="-4.13" y="3.11" width="3.85" height="4.29"/></g><g transform="translate(499.7,1102.3) rotate(-90)"><rect x="-10.30" y="3.11" width="4.01" height="4.29"/><rect x="-4.13" y="3.11" width="3.85" height="4.29"/></g><g transform="translate(635.2,1102.3) rotate(-90)"><rect x="-184.10" y="-3.64" width="5.76" height="5.04"/><rect x="-175.28" y="-3.64" width="5.53" height="5.04"/></g><g transform="translate(635.2,1102.3) rotate(-90)"><rect x="-21.43" y="3.11" width="4.01" height="4.29"/><rect x="-15.25" y="3.11" width="3.85" height="4.29"/></g><g transform="translate(662.4,1102.3) rotate(-90)"><rect x="-21.43" y="3.11" width="4.01" height="4.29"/><rect x="-15.25" y="3.11" width="3.85" height="4.29"/></g><g transform="translate(689.7,1102.3) rotate(-90)"><rect x="-21.43" y="3.11" width="4.01" height="4.29"/><rect x="-15.25" y="3.11" width="3.85" height="4.29"/></g><g transform="translate(716.9,1102.3) rotate(-90)"><rect x="-21.43" y="3.11" width="4.01" height="4.29"/><rect x="-15.25" y="3.11" width="3.85" height="4.29"/></g><g transform="translate(744.1,1102.3) rotate(-90)"><rect x="-184.10" y="-3.64" width="5.76" height="5.04"/><rect x="-175.28" y="-3.64" width="5.53" height="5.04"/></g><g transform="translate(744.1,1102.3) rotate(-90)"><rect x="-159.08" y="-3.64" width="5.76" height="5.04"/><rect x="-150.27" y="-3.64" width="5.53" height="5.04"/></g><g transform="translate(744.1,1102.3) rotate(-90)"><rect x="-21.43" y="3.11" width="4.01" height="4.29"/><rect x="-15.25" y="3.11" width="3.85" height="4.29"/></g><g transform="translate(771.3,1102.3) rotate(-90)"><rect x="-159.08" y="-3.64" width="5.76" height="5.04"/><rect x="-150.27" y="-3.64" width="5.53" height="5.04"/></g><g transform="translate(771.3,1102.3) rotate(-90)"><rect x="-21.43" y="3.11" width="4.01" height="4.29"/><rect x="-15.25" y="3.11" width="3.85" height="4.29"/></g><g transform="translate(798.5,1102.3) rotate(-90)"><rect x="-159.08" y="-3.64" width="5.76" height="5.04"/><rect x="-150.27" y="-3.64" width="5.53" height="5.04"/></g><g transform="translate(798.5,1102.3) rotate(-90)"><rect x="-21.43" y="3.11" width="4.01" height="4.29"/><rect x="-15.25" y="3.11" width="3.85" height="4.29"/></g><g transform="translate(825.8,1102.3) rotate(-90)"><rect x="-159.08" y="-3.64" width="5.76" height="5.04"/><rect x="-150.27" y="-3.64" width="5.53" height="5.04"/></g><g transform="translate(825.8,1102.3) rotate(-90)"><rect x="-21.43" y="3.11" width="4.01" height="4.29"/><rect x="-15.25" y="3.11" width="3.85" height="4.29"/></g><g transform="translate(880.2,1102.3) rotate(-90)"><rect x="-184.10" y="-3.64" width="5.76" height="5.04"/><rect x="-175.28" y="-3.64" width="5.53" height="5.04"/></g><g transform="translate(880.2,1102.3) rotate(-90)"><rect x="-97.40" y="-3.64" width="5.76" height="5.04"/><rect x="-88.58" y="-3.64" width="5.53" height="5.04"/></g><g transform="translate(880.2,1102.3) rotate(-90)"><rect x="-21.43" y="3.11" width="4.01" height="4.29"/><rect x="-15.25" y="3.11" width="3.85" height="4.29"/></g><g transform="translate(907.4,1102.3) rotate(-90)"><rect x="-97.40" y="-3.64" width="5.76" height="5.04"/><rect x="-88.58" y="-3.64" width="5.53" height="5.04"/></g><g transform="translate(907.4,1102.3) rotate(-90)"><rect x="-21.43" y="3.11" width="4.01" height="4.29"/><rect x="-15.25" y="3.11" width="3.85" height="4.29"/></g><g transform="translate(934.6,1102.3) rotate(-90)"><rect x="-184.10" y="-3.64" width="5.76" height="5.04"/><rect x="-175.28" y="-3.64" width="5.53" height="5.04"/></g><g transform="translate(934.6,1102.3) rotate(-90)"><rect x="-159.08" y="-3.64" width="5.76" height="5.04"/><rect x="-150.27" y="-3.64" width="5.53" height="5.04"/></g><g transform="translate(934.6,1102.3) rotate(-90)"><rect x="-97.40" y="-3.64" width="5.76" height="5.04"/><rect x="-88.58" y="-3.64" width="5.53" height="5.04"/></g><g transform="translate(934.6,1102.3) rotate(-90)"><rect x="-21.43" y="3.11" width="4.01" height="4.29"/><rect x="-15.25" y="3.11" width="3.85" height="4.29"/></g><g transform="translate(961.9,1102.3) rotate(-90)"><rect x="-184.10" y="-3.64" width="5.76" height="5.04"/><rect x="-175.28" y="-3.64" width="5.53" height="5.04"/></g><g transform="translate(961.9,1102.3) rotate(-90)"><rect x="-97.40" y="-3.64" width="5.76" height="5.04"/><rect x="-88.58" y="-3.64" width="5.53" height="5.04"/></g><g transform="translate(961.9,1102.3) rotate(-90)"><rect x="-72.38" y="-3.64" width="5.76" height="5.04"/><rect x="-63.56" y="-3.64" width="5.53" height="5.04"/></g><g transform="translate(961.9,1102.3) rotate(-90)"><rect x="-21.43" y="3.11" width="4.01" height="4.29"/><rect x="-15.25" y="3.11" width="3.85" height="4.29"/></g><g transform="translate(989.1,1102.3) rotate(-90)"><rect x="-97.40" y="-3.64" width="5.76" height="5.04"/><rect x="-88.58" y="-3.64" width="5.53" height="5.04"/></g><g transform="translate(989.1,1102.3) rotate(-90)"><rect x="-72.38" y="-3.64" width="5.76" height="5.04"/><rect x="-63.56" y="-3.64" width="5.53" height="5.04"/></g><g transform="translate(989.1,1102.3) rotate(-90)"><rect x="-21.43" y="3.11" width="4.01" height="4.29"/><rect x="-15.25" y="3.11" width="3.85" height="4.29"/></g><g transform="translate(1016.3,1102.3) rotate(-90)"><rect x="-184.10" y="-3.64" width="5.76" height="5.04"/><rect x="-175.28" y="-3.64" width="5.53" height="5.04"/></g><g transform="translate(1016.3,1102.3) rotate(-90)"><rect x="-159.08" y="-3.64" width="5.76" height="5.04"/><rect x="-150.27" y="-3.64" width="5.53" height="5.04"/></g><g transform="translate(1016.3,1102.3) rotate(-90)"><rect x="-97.40" y="-3.64" width="5.76" height="5.04"/><rect x="-88.58" y="-3.64" width="5.53" height="5.04"/></g><g transform="translate(1016.3,1102.3) rotate(-90)"><rect x="-72.38" y="-3.64" width="5.76" height="5.04"/><rect x="-63.56" y="-3.64" width="5.53" height="5.04"/></g><g transform="translate(1016.3,1102.3) rotate(-90)"><rect x="-21.43" y="3.11" width="4.01" height="4.29"/><rect x="-15.25" y="3.11" width="3.85" height="4.29"/></g><g transform="translate(1043.5,1102.3) rotate(-90)"><rect x="-184.10" y="-3.64" width="5.76" height="5.04"/><rect x="-175.28" y="-3.64" width="5.53" height="5.04"/></g><g transform="translate(1043.5,1102.3) rotate(-90)"><rect x="-72.38" y="-3.64" width="5.76" height="5.04"/><rect x="-63.56" y="-3.64" width="5.53" height="5.04"/></g><g transform="translate(1043.5,1102.3) rotate(-90)"><rect x="-21.43" y="3.11" width="4.01" height="4.29"/><rect x="-15.25" y="3.11" width="3.85" height="4.29"/></g><g transform="translate(1070.7,1102.3) rotate(-90)"><rect x="-184.10" y="-3.64" width="5.76" height="5.04"/><rect x="-175.28" y="-3.64" width="5.53" height="5.04"/></g><g transform="translate(1070.7,1102.3) rotate(-90)"><rect x="-72.38" y="-3.64" width="5.76" height="5.04"/><rect x="-63.56" y="-3.64" width="5.53" height="5.04"/></g><g transform="translate(1070.7,1102.3) rotate(-90)"><rect x="-21.43" y="3.11" width="4.01" height="4.29"/><rect x="-15.25" y="3.11" width="3.85" height="4.29"/></g><g transform="translate(1125.0,1102.3) rotate(-90)"><rect x="-310.33" y="-3.64" width="5.76" height="5.04"/><rect x="-301.52" y="-3.64" width="5.53" height="5.04"/></g><g transform="translate(1125.0,1102.3) rotate(-90)"><rect x="-147.66" y="3.11" width="4.01" height="4.29"/><rect x="-141.49" y="3.11" width="3.85" height="4.29"/></g><g transform="translate(1152.2,1102.3) rotate(-90)"><rect x="-285.35" y="-3.64" width="5.76" height="5.04"/><rect x="-276.53" y="-3.64" width="5.53" height="5.04"/></g><g transform="translate(1152.2,1102.3) rotate(-90)"><rect x="-122.68" y="3.11" width="4.01" height="4.29"/><rect x="-116.50" y="3.11" width="3.85" height="4.29"/></g><g transform="translate(1179.4,1102.3) rotate(-90)"><rect x="-270.32" y="-3.64" width="5.76" height="5.04"/><rect x="-261.50" y="-3.64" width="5.53" height="5.04"/></g><g transform="translate(1179.4,1102.3) rotate(-90)"><rect x="-107.65" y="3.11" width="4.01" height="4.29"/><rect x="-101.47" y="3.11" width="3.85" height="4.29"/></g><g transform="translate(1206.6,1102.3) rotate(-90)"><rect x="-147.66" y="3.11" width="4.01" height="4.29"/><rect x="-141.49" y="3.11" width="3.85" height="4.29"/></g><g transform="translate(1233.9,1102.3) rotate(-90)"><rect x="-122.68" y="3.11" width="4.01" height="4.29"/><rect x="-116.50" y="3.11" width="3.85" height="4.29"/></g><g transform="translate(1261.1,1102.3) rotate(-90)"><rect x="-107.65" y="3.11" width="4.01" height="4.29"/><rect x="-101.47" y="3.11" width="3.85" height="4.29"/></g><g transform="translate(1288.3,1102.3) rotate(-90)"><rect x="-310.33" y="-3.64" width="5.76" height="5.04"/><rect x="-301.52" y="-3.64" width="5.53" height="5.04"/></g><g transform="translate(1288.3,1102.3) rotate(-90)"><rect x="-223.63" y="-3.64" width="5.76" height="5.04"/><rect x="-214.81" y="-3.64" width="5.53" height="5.04"/></g><g transform="translate(1288.3,1102.3) rotate(-90)"><rect x="-198.62" y="-3.64" width="5.76" height="5.04"/><rect x="-189.80" y="-3.64" width="5.53" height="5.04"/></g><g transform="translate(1288.3,1102.3) rotate(-90)"><rect x="-147.66" y="3.11" width="4.01" height="4.29"/><rect x="-141.49" y="3.11" width="3.85" height="4.29"/></g><g transform="translate(1315.5,1102.3) rotate(-90)"><rect x="-310.33" y="-3.64" width="5.76" height="5.04"/><rect x="-301.52" y="-3.64" width="5.53" height="5.04"/></g><g transform="translate(1315.5,1102.3) rotate(-90)"><rect x="-198.62" y="-3.64" width="5.76" height="5.04"/><rect x="-189.80" y="-3.64" width="5.53" height="5.04"/></g><g transform="translate(1315.5,1102.3) rotate(-90)"><rect x="-147.66" y="3.11" width="4.01" height="4.29"/><rect x="-141.49" y="3.11" width="3.85" height="4.29"/></g><g transform="translate(1342.7,1102.3) rotate(-90)"><rect x="-310.33" y="-3.64" width="5.76" height="5.04"/><rect x="-301.52" y="-3.64" width="5.53" height="5.04"/></g><g transform="translate(1342.7,1102.3) rotate(-90)"><rect x="-198.62" y="-3.64" width="5.76" height="5.04"/><rect x="-189.80" y="-3.64" width="5.53" height="5.04"/></g><g transform="translate(1342.7,1102.3) rotate(-90)"><rect x="-147.66" y="3.11" width="4.01" height="4.29"/><rect x="-141.49" y="3.11" width="3.85" height="4.29"/></g><rect x="201.95" y="1388.01" width="7.51" height="5.79"/><rect x="213.40" y="1388.01" width="7.20" height="5.79"/></g><!--onefix-->
</svg></body></html>
